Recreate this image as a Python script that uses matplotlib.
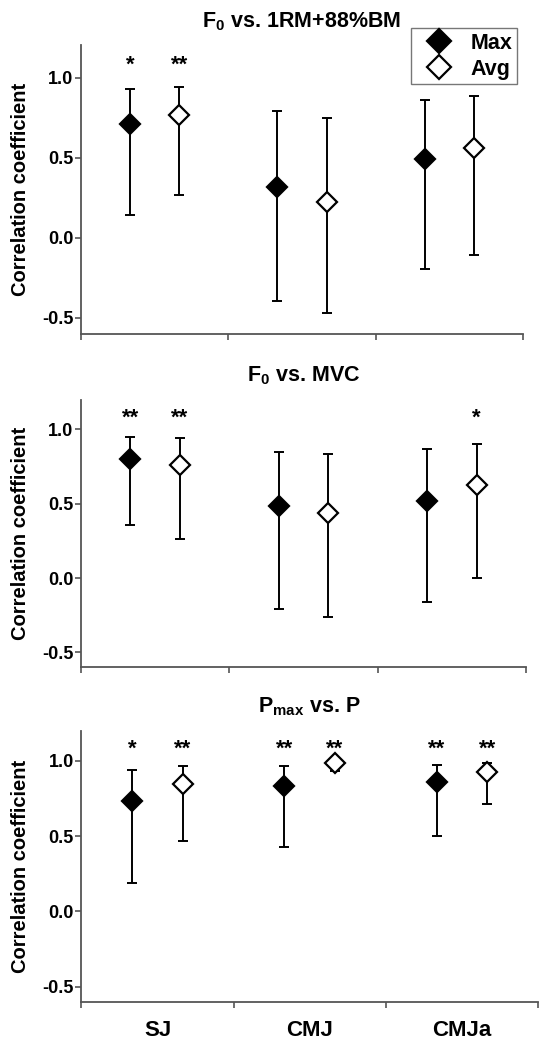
import numpy as np
import matplotlib
matplotlib.use('Agg')
import matplotlib.pyplot as plt
import matplotlib.transforms as mtransforms
from matplotlib.lines import Line2D
from matplotlib.ticker import FormatStrFormatter

plt.rcParams['font.family'] = ['Liberation Sans', 'DejaVu Sans']
plt.rcParams['font.weight'] = 'bold'
plt.rcParams['mathtext.fontset'] = 'custom'
plt.rcParams['mathtext.rm'] = 'Liberation Sans:bold'
plt.rcParams['mathtext.bf'] = 'Liberation Sans:bold'
plt.rcParams['axes.unicode_minus'] = False

jumps = ['SJ', 'CMJ', 'CMJa']
titles = [r'F$_\mathbf{0}$ vs. 1RM+88%BM', r'F$_\mathbf{0}$ vs. MVC', r'P$_\mathbf{max}$ vs. P']

# correlation coefficient with 95% CI, one row per panel, one column per jump
max_r = [[0.71, 0.314, 0.494],
         [0.80, 0.482, 0.52],
         [0.736, 0.831, 0.86]]
max_lo = [[0.144, -0.394, -0.196],
          [0.36, -0.21, -0.16],
          [0.19, 0.429, 0.498]]
max_hi = [[0.93, 0.79, 0.862],
          [0.948, 0.85, 0.867],
          [0.936, 0.963, 0.969]]

avg_r = [[0.764, 0.223, 0.56],
         [0.76, 0.437, 0.628],
         [0.849, 0.985, 0.923]]
avg_lo = [[0.267, -0.471, -0.106],
          [0.266, -0.26, 0.0],
          [0.469, 0.935, 0.711]]
avg_hi = [[0.94, 0.75, 0.883],
          [0.94, 0.836, 0.90],
          [0.965, 0.998, 0.987]]

max_sig = [['*', '', ''],
           ['**', '', ''],
           ['*', '**', '**']]
avg_sig = [['**', '', ''],
           ['**', '', '*'],
           ['**', '**', '**']]

fig = plt.figure(figsize=(5.48, 10.5), dpi=100)
positions = [[0.1478, 0.6819, 0.8066, 0.2748],
             [0.1478, 0.3645, 0.8120, 0.2548],
             [0.1485, 0.0460, 0.8332, 0.2581]]
spine_col = '#555555'

x = np.arange(len(jumps))
for p in range(3):
    ax = fig.add_axes(positions[p])
    for r, lo, hi, sig, face, off in [(max_r[p], max_lo[p], max_hi[p], max_sig[p], 'black', 1/3),
                                      (avg_r[p], avg_lo[p], avg_hi[p], avg_sig[p], 'white', 2/3)]:
        r = np.array(r)
        err = [r - np.array(lo), np.array(hi) - r]
        ax.errorbar(x + off, r, yerr=err, fmt='none', ecolor='black',
                    elinewidth=1.4, capsize=3.6, capthick=1.4, zorder=2)
        ax.plot(x + off, r, 'D', ms=10, mfc=face, mec='black', mew=1.6, zorder=3)
        for xi, s in zip(x + off, sig):
            if s:
                ax.text(xi, 1.04, s, ha='center', va='baseline', fontsize=16,
                        fontweight='bold')

    ax.set_xlim(0, 3)
    ax.set_ylim(-0.6, 1.2)
    ax.set_yticks([-0.5, 0.0, 0.5, 1.0])
    ax.yaxis.set_major_formatter(FormatStrFormatter('%.1f'))
    ax.set_xticks([0, 1, 2, 3])
    ax.set_xticklabels([])
    ax.set_xticks(x + 0.5, minor=True)
    if p == 2:
        ax.set_xticklabels(jumps, minor=True, fontsize=16, fontweight='bold')
    ax.tick_params(axis='x', which='minor', length=0, pad=13)
    ax.tick_params(axis='x', which='major', length=4, width=1.2, color=spine_col)
    ax.tick_params(axis='y', length=4, width=1.2, color=spine_col, pad=1.5,
                   labelsize=13)
    for lab in ax.get_yticklabels():
        lab.set_fontweight('bold')
    for side in ['top', 'right']:
        ax.spines[side].set_visible(False)
    for side in ['left', 'bottom']:
        ax.spines[side].set_color(spine_col)
        ax.spines[side].set_linewidth(1.3)

    ax.set_title(titles[p], fontsize=15.5, fontweight='bold', pad=13)
    ax.set_ylabel('Correlation coefficient', fontsize=14.5, fontweight='bold')
    trans = mtransforms.blended_transform_factory(fig.transFigure, ax.transAxes)
    ax.yaxis.set_label_coords(30.4 / 548, 0.5, transform=trans)

    if p == 0:
        handles = [Line2D([], [], ls='none', marker='D', ms=10, mfc='black', mec='black', mew=1.6),
                   Line2D([], [], ls='none', marker='D', ms=10, mfc='white', mec='black', mew=1.6)]
        leg = fig.legend(handles, ['Max', 'Avg'], loc='upper right',
                         bbox_to_anchor=(517 / 548, 1 - 28.3 / 1050),
                         prop={'size': 15.5, 'weight': 'bold'}, markerscale=1.2,
                         fancybox=False, framealpha=1, edgecolor='#777777',
                         borderpad=0.2, labelspacing=0.25, handlelength=2.2,
                         handletextpad=0.4, borderaxespad=0)
        leg.get_frame().set_linewidth(1.0)

fig.savefig('out.png', dpi=100)
